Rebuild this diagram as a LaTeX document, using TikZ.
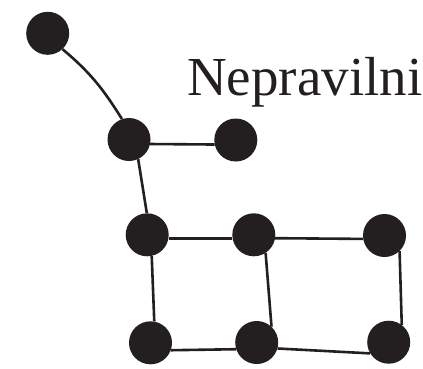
\documentclass[tikz,border=0pt]{standalone}
\usepackage{fontspec}
\setmainfont{Liberation Serif}
\definecolor{ink}{RGB}{35,31,32}
\begin{document}
\begin{tikzpicture}[x=1pt,y=1pt,
  vertex/.style={circle,fill=ink,draw=none,minimum size=43pt,inner sep=0pt},
  edge/.style={draw=ink,line width=2.6pt}]
\useasboundingbox (0,0) rectangle (423,-368);
\node[vertex] (n1) at (47.7,-33.3) {};
\node[vertex] (n2) at (129,-139.5) {};
\node[vertex] (n3) at (235.8,-140) {};
\node[vertex] (n4) at (147.2,-234.8) {};
\node[vertex] (n5) at (253.8,-234.8) {};
\node[vertex] (n6) at (384.5,-235.5) {};
\node[vertex] (n7) at (150.5,-342.8) {};
\node[vertex] (n8) at (256.7,-342.5) {};
\node[vertex] (n9) at (388.7,-342.2) {};
\node[anchor=base west,inner sep=0pt,font=\fontsize{55}{60}\selectfont,text=ink] (lbl) at (187,-95) {Nepravilni};
\draw[edge] (n1.-47) to[out=-40,in=122] (n2.109);
\draw[edge] (n2.-12) -- (n3.192);
\draw[edge] (n2.-65) -- (n4.91);
\draw[edge] (n4.-9) -- (n5.189);
\draw[edge] (n5.-9) -- (n6.189);
\draw[edge] (n4.-78) -- (n7.80);
\draw[edge] (n5.-57) -- (n8.47);
\draw[edge] (n6.-46) -- (n9.53);
\draw[edge] (n7.-20) -- (n8.-162);
\draw[edge] (n8.-16) -- (n9.-149);
\end{tikzpicture}
\end{document}
